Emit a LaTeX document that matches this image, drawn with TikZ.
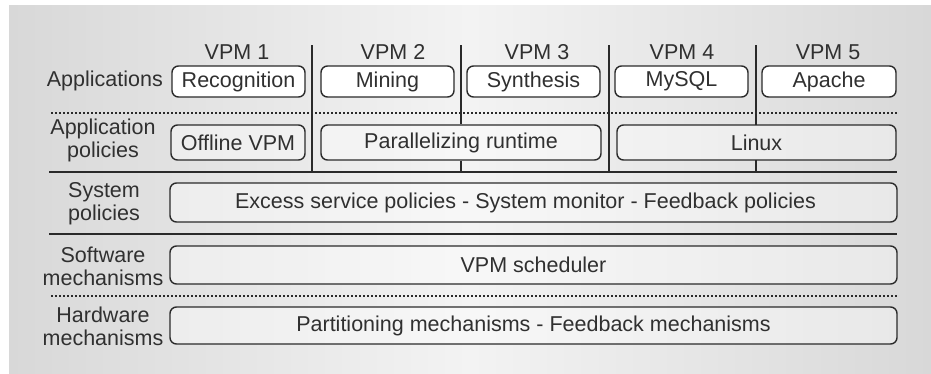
\documentclass[tikz,border=0pt]{standalone}
\usepackage{fontspec}
\setmainfont{Liberation Sans}
\definecolor{ink}{HTML}{2A2A2A}
\definecolor{txt}{HTML}{303030}
\definecolor{bgside}{HTML}{D8D8D8}
\definecolor{bgmid}{HTML}{F3F3F3}
\begin{document}
\begin{tikzpicture}[x=1pt,y=-1pt,
  every node/.style={font=\fontsize{21.5}{23}\selectfont, text=txt},
  appbox/.style={draw=ink, line width=1.4pt, rounded corners=6.5pt, fill=white,
    inner sep=0pt, minimum height=31pt},
  layerbox/.style={draw=ink, line width=1.4pt, rounded corners=6.5pt, fill=white,
    fill opacity=0.4, text opacity=1, inner sep=0pt},
  rowlabel/.style={align=center, inner sep=0pt},
  sepline/.style={draw=ink, line width=1.5pt},
  dotline/.style={draw=ink, line width=2pt, dash pattern=on 2pt off 2pt},
]
% canvas and background panel
\useasboundingbox (0,0) rectangle (931,373);
\fill[white] (0,0) rectangle (931,373);
\shade[left color=bgside, right color=bgside, middle color=bgmid] (9,5) rectangle (931,373);

% VPM column headings
\node (v1) at (237,52) {VPM 1};
\node (v2) at (393,52) {VPM 2};
\node (v3) at (537,52) {VPM 3};
\node (v4) at (682,52) {VPM 4};
\node (v5) at (828,52) {VPM 5};

% application row
\node[appbox, minimum width=133pt] (rec) at (238.5,81.5) {Recognition};
\node[appbox, minimum width=133pt] (min) at (387.5,81.5) {Mining};
\node[appbox, minimum width=133pt] (syn) at (533.5,81.5) {Synthesis};
\node[appbox, minimum width=133pt] (sql) at (681.5,81.5) {MySQL};
\node[appbox, minimum width=134pt] (apa) at (829,81.5) {Apache};

% application policies row
\node[layerbox, minimum width=134pt, minimum height=35pt] (off) at (238,142.5) {Offline VPM};
\node[layerbox, minimum width=280pt, minimum height=35pt] (par) at (461,142.5) {Parallelizing runtime};
\node[layerbox, minimum width=279pt, minimum height=35pt] (lin) at (756.5,142.5) {Linux};

% lower layers
\node[layerbox, minimum width=727pt, minimum height=39pt] (sys) at (533.5,202.5) {};
\node (systxt) at (525.5,202.5) {Excess service policies - System monitor - Feedback policies};
\node[layerbox, minimum width=727pt, minimum height=38pt] (sw) at (533.5,265) {VPM scheduler};
\node[layerbox, minimum width=727pt, minimum height=37pt] (hw) at (533.5,325.5)
  {Partitioning mechanisms - Feedback mechanisms};

% row labels
\node[rowlabel, anchor=east] (lapp) at (163,81) {Applications};
\node[rowlabel] (lpol) at (103,140.5) {Application\\policies};
\node[rowlabel] (lsys) at (104,204) {System\\policies};
\node[rowlabel] (lsw) at (103,266.5) {Software\\mechanisms};
\node[rowlabel] (lhw) at (103,326.5) {Hardware\\mechanisms};

% layer separators
\coordinate (dA1) at (51,113);  \coordinate (dA2) at (898,113);
\coordinate (sA1) at (49,172);  \coordinate (sA2) at (897,172);
\coordinate (sB1) at (49,234);  \coordinate (sB2) at (897,234);
\coordinate (dB1) at (51,296);  \coordinate (dB2) at (898,296);
\draw[dotline] (dA1) -- (dA2);
\draw[sepline] (sA1) -- (sA2);
\draw[sepline] (sB1) -- (sB2);
\draw[dotline] (dB1) -- (dB2);

% VPM column dividers
\draw[sepline] (312,45) -- (312,172);
\draw[sepline] (609,45) -- (609,172);
\draw[sepline] (461,45) -- (par.north);
\draw[sepline] (par.south) -- (461,172);
\draw[sepline] (756,45) -- (756,125);
\draw[sepline] (756,160) -- (756,172);
\end{tikzpicture}
\end{document}
